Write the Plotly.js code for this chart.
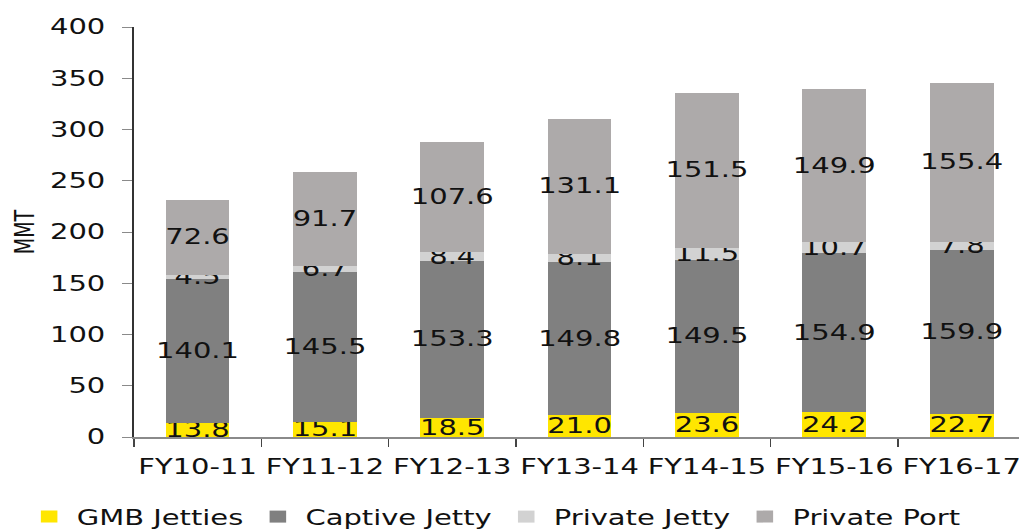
<!DOCTYPE html>
<html>
<head>
<meta charset="utf-8">
<script src="https://cdn.plot.ly/plotly-3.0.1.min.js"></script>
<style>
  html, body { margin: 0; padding: 0; background: #fff; }
  body { width: 1019px; height: 530px; overflow: hidden; }
  /* the chart is laid out narrow and widened horizontally */
  #chart { width: 744px; height: 530px; transform: scaleX(1.38); transform-origin: 0 0; }
</style>
</head>
<body>
<div id="chart"></div>
<script>
// Cargo handled (MMT) by type of facility, per financial year
const years = ['FY10-11', 'FY11-12', 'FY12-13', 'FY13-14', 'FY14-15', 'FY15-16', 'FY16-17'];
const gmbJetties   = [13.8, 15.1, 18.5, 21.0, 23.6, 24.2, 22.7];
const captiveJetty = [140.1, 145.5, 153.3, 149.8, 149.5, 154.9, 159.9];
const privateJetty = [4.5, 6.7, 8.4, 8.1, 11.5, 10.7, 7.8];
const privatePort  = [72.6, 91.7, 107.6, 131.1, 151.5, 149.9, 155.4];
const yTicks = [0, 50, 100, 150, 200, 250, 300, 350, 400];

const FONT = 'DejaVu Sans, Verdana, sans-serif';
const TXT = '#111111';

function series(name, values, color) {
  return {
    type: 'bar',
    name: name,
    x: years,
    y: values,
    marker: { color: color, line: { width: 0 } },
    texttemplate: '%{y:.1f}',
    textposition: 'inside',
    insidetextanchor: 'middle',
    textangle: 0,
    constraintext: 'none',
    insidetextfont: { family: FONT, size: 21, color: TXT },
    hoverinfo: 'x+y+name'
  };
}

const data = [
  series('GMB Jetties', gmbJetties, '#ffe600'),
  series('Captive Jetty', captiveJetty, '#808080'),
  series('Private Jetty', privateJetty, '#d2d2d2'),
  series('Private Port', privatePort, '#adaaaa')
];

const layout = {
  barmode: 'stack',
  bargap: 0.5,
  width: 744,
  height: 530,
  margin: { l: 97, r: 1, t: 27, b: 93, autoexpand: false },
  paper_bgcolor: '#ffffff',
  plot_bgcolor: '#ffffff',
  font: { family: FONT, size: 21, color: TXT },
  showlegend: true,
  legend: {
    orientation: 'h',
    traceorder: 'normal',
    x: -0.126, xanchor: 'left',
    y: -0.195, yanchor: 'middle',
    font: { family: FONT, size: 21, color: TXT },
    bgcolor: 'rgba(0,0,0,0)'
  },
  xaxis: {
    type: 'category',
    tickson: 'boundaries',
    ticks: 'outside',
    ticklen: 8,
    tickcolor: '#444',
    tickangle: 0,
    ticklabelstandoff: 10,
    showline: true,
    linecolor: '#8a8a8a',
    linewidth: 1.5,
    showgrid: false,
    tickfont: { family: FONT, size: 21, color: TXT },
    automargin: false
  },
  yaxis: {
    range: [0, 400],
    tickvals: yTicks,
    ticks: 'outside',
    ticklen: 7,
    tickcolor: '#8a8a8a',
    ticklabelstandoff: 8,
    showline: true,
    linecolor: '#333333',
    linewidth: 1.5,
    showgrid: false,
    zeroline: false,
    tickfont: { family: FONT, size: 21, color: TXT },
    title: { text: 'MMT', font: { family: FONT, size: 19, color: TXT }, standoff: 6 },
    automargin: false
  }
};

Plotly.newPlot('chart', data, layout, { displayModeBar: false, staticPlot: true });
</script>
</body>
</html>
